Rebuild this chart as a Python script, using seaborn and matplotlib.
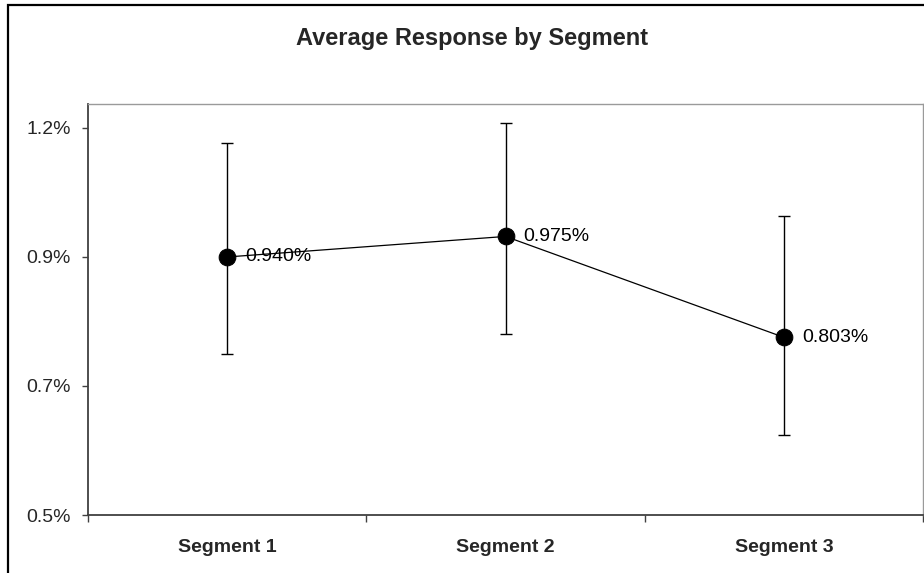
import matplotlib
matplotlib.use("Agg")
import matplotlib.pyplot as plt
import seaborn as sns
import pandas as pd
import numpy as np
from matplotlib.patches import Rectangle

# ---- data (values in percent) ----
segments = ["Segment 1", "Segment 2", "Segment 3"]
mean_pct = [0.940, 0.975, 0.803]
lower_pct = [0.774, 0.809, 0.636]
upper_pct = [1.134, 1.168, 1.010]
value_labels = ["0.940%", "0.975%", "0.803%"]
ytick_values = [0.50, 0.72, 0.94, 1.16]
ytick_labels = ["0.5%", "0.7%", "0.9%", "1.2%"]
title = "Average Response by Segment"

sns.set_theme(style="white")
plt.rcParams["font.family"] = ["Liberation Sans", "DejaVu Sans"]

df = pd.DataFrame({"pos": np.arange(len(segments)), "segment": segments,
                   "mean": mean_pct, "lo": lower_pct, "hi": upper_pct})

W, H = 924, 573
fig = plt.figure(figsize=(W / 100, H / 100), dpi=100)
ax = fig.add_axes([88 / W, (H - 515) / H, (923 - 88) / W, (515 - 104.5) / H])

# error bars
yerr = np.vstack([df["mean"] - df["lo"], df["hi"] - df["mean"]])
ax.errorbar(df["pos"], df["mean"], yerr=yerr, fmt="none", ecolor="black",
            elinewidth=1.0, capsize=4, capthick=1.0, zorder=2)

# line + markers via seaborn
sns.lineplot(data=df, x="pos", y="mean", ax=ax, color="black", linewidth=0.9,
             marker="o", markersize=12, markeredgecolor="black",
             markerfacecolor="black", zorder=3)

# data labels
for x, y, t in zip(df["pos"], df["mean"], value_labels):
    ax.annotate(t, (x, y), xytext=(13, 0), textcoords="offset points",
                ha="left", va="center", fontsize=14, color="black")

ax.set_xlim(-0.5, len(segments) - 0.5)
ax.set_ylim(0.5, 1.2)
ax.set_yticks(ytick_values)
ax.set_yticklabels(ytick_labels, fontsize=14)
ax.set_xticks(df["pos"])
ax.set_xticklabels(segments, fontsize=14, fontweight="bold")
ax.set_xticks(np.arange(-0.5, len(segments)), minor=True)
ax.tick_params(axis="x", which="major", length=0, pad=17)
ax.tick_params(axis="x", which="minor", length=5, width=1, color="#404040",
               direction="out", bottom=True)
ax.tick_params(axis="y", which="major", length=4.5, width=1, color="#404040",
               direction="out", left=True, pad=8)
ax.set_xlabel("")
ax.set_ylabel("")
ax.grid(False)

for s in ["left", "bottom"]:
    ax.spines[s].set_color("#404040")
    ax.spines[s].set_linewidth(1.3)
for s in ["top", "right"]:
    ax.spines[s].set_color("#9a9a9a")
    ax.spines[s].set_linewidth(1.0)

fig.text(471.7 / W, 1 - 39 / H, title, ha="center", va="center",
         fontsize=17, fontweight="bold")

# outer chart frame (left and top edges visible)
fig.patches.append(Rectangle((8 / W, -0.05), 1.2, (H - 5) / H + 0.05,
                             transform=fig.transFigure, fill=False,
                             edgecolor="black", linewidth=1.6, zorder=0))

fig.savefig("out.png", dpi=100)
